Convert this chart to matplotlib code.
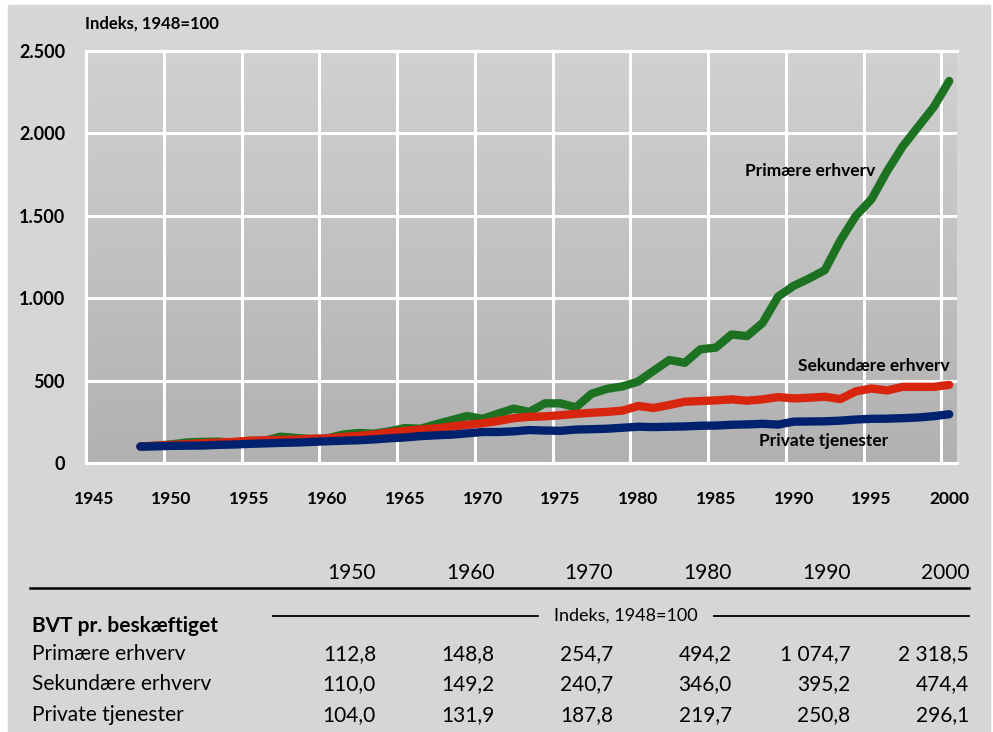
import numpy as np
import matplotlib.pyplot as plt
from matplotlib.colors import LinearSegmentedColormap
from matplotlib.patches import Rectangle
from matplotlib.lines import Line2D

plt.rcParams['font.family'] = ['Lato', 'DejaVu Sans']

# ── Data ─────────────────────────────────────────
years = list(range(1948, 2001))

primaere = [100, 105, 113, 125, 128, 130, 122, 135, 135, 160, 152, 145,
            149, 172, 182, 178, 192, 212, 208, 235, 260, 285, 268, 300,
            330, 310, 362, 362, 338, 420, 450, 465, 494, 560, 625, 608,
            690, 700, 780, 770, 850, 1010, 1075, 1120, 1170, 1350, 1500, 1600,
            1770, 1920, 2040, 2160, 2318]
sekundaere = [100, 105, 110, 115, 120, 124, 128, 135, 138, 140, 142, 147,
              149, 158, 165, 172, 185, 195, 203, 210, 222, 232, 241, 255,
              272, 280, 283, 290, 298, 305, 310, 318, 346, 334, 352, 372,
              376, 380, 386, 378, 386, 400, 392, 396, 402, 388, 435, 452,
              440, 462, 462, 462, 474]
private = [100, 101, 104, 105, 106, 110, 112, 116, 119, 122, 124, 128,
           132, 135, 138, 143, 150, 155, 163, 168, 172, 180, 188, 188,
           192, 200, 197, 195, 203, 205, 208, 214, 220, 218, 220, 222,
           226, 227, 232, 234, 238, 233, 251, 252, 253, 257, 264, 268,
           269, 272, 276, 284, 296]

series_names = ['Primære erhverv', 'Sekundære erhverv', 'Private tjenester']
series_colors = ['#1d7222', '#d8260e', '#00226e']

table_years = ['1950', '1960', '1970', '1980', '1990', '2000']
table_rows = {
    'Primære erhverv': ['112,8', '148,8', '254,7', '494,2', '1 074,7', '2 318,5'],
    'Sekundære erhverv': ['110,0', '149,2', '240,7', '346,0', '395,2', '474,4'],
    'Private tjenester': ['104,0', '131,9', '187,8', '219,7', '250,8', '296,1'],
}

W, H = 993, 732


def fx(x):
    return x / W


def fy(y):
    return 1 - y / H


fig = plt.figure(figsize=(W / 100, H / 100), dpi=100, facecolor='white')
fig.patches.append(Rectangle((fx(8), 0), fx(990) - fx(8), fy(5), transform=fig.transFigure,
                             color='#d6d6d6', zorder=-10))

ax = fig.add_axes([fx(86), fy(463), fx(957) - fx(86), fy(51) - fy(463)])
ax.set_facecolor('none')

# gradient plot background, lighter at the top
cmap = LinearSegmentedColormap.from_list('bg', ['#d1d1d1', '#b1b1b1'])
grad = np.linspace(0, 1, 256).reshape(-1, 1)
ax.imshow(grad, extent=[1944.5, 2000.5, 0, 2500], aspect='auto', cmap=cmap, zorder=0)

for name, vals, col, z in zip(series_names, [primaere, sekundaere, private], series_colors, [3, 4, 5]):
    ax.plot(years, vals, color=col, lw=6, solid_capstyle='round', solid_joinstyle='round', zorder=z)

ax.set_xlim(1944.5, 2000.5)
ax.set_ylim(0, 2500)

ax.set_xticks(range(1945, 2001, 5))
ax.set_xticks([y - 0.5 for y in range(1945, 2001, 5)], minor=True)
ax.set_yticks(range(0, 2501, 500))
ax.set_yticklabels(['0', '500', '1.000', '1.500', '2.000', '2.500'])
ax.tick_params(axis='both', which='both', length=0)
ax.tick_params(axis='x', pad=20, labelsize=12.5)
ax.tick_params(axis='y', pad=15, labelsize=13)
for lab in ax.get_xticklabels() + ax.get_yticklabels():
    lab.set_fontweight('bold')

ax.grid(True, which='minor', axis='x', color='white', lw=2.2, zorder=1)
ax.grid(True, which='major', axis='y', color='white', lw=2.2, zorder=1)
ax.grid(False, which='major', axis='x')
ax.spines['right'].set_visible(False)
for s in ['left', 'top', 'bottom']:
    ax.spines[s].set_color('white')
    ax.spines[s].set_linewidth(2.2)

ax.text(1986.9, 1770, 'Primære erhverv', fontsize=12.5, fontweight='bold', ha='left', va='center', zorder=6)
ax.text(2000.0, 590, 'Sekundære erhverv', fontsize=12.5, fontweight='bold', ha='right', va='center', zorder=6)
ax.text(1987.8, 133, 'Private tjenester', fontsize=12.5, fontweight='bold', ha='left', va='center', zorder=6)

fig.text(fx(85), fy(24), 'Indeks, 1948=100', fontsize=12, fontweight='bold', ha='left', va='center')

# ── Table ────────────────────────────────────────
col_right = [376 + i * 118.6 for i in range(len(table_years))]
for x, yr in zip(col_right, table_years):
    fig.text(fx(x), fy(573), yr, fontsize=15, ha='right', va='center')

fig.add_artist(Line2D([fx(30), fx(969)], [fy(588), fy(588)], color='black', lw=1.8))
fig.add_artist(Line2D([fx(273), fx(538)], [fy(616), fy(616)], color='black', lw=1.3))
fig.add_artist(Line2D([fx(714), fx(969)], [fy(616), fy(616)], color='black', lw=1.3))
fig.text(fx(626), fy(616), 'Indeks, 1948=100', fontsize=13, ha='center', va='center')

fig.text(fx(32), fy(626), 'BVT pr. beskæftiget', fontsize=15, fontweight='bold', ha='left', va='center')
for i, (name, vals) in enumerate(table_rows.items()):
    yy = 654 + i * 30.5
    fig.text(fx(32), fy(yy), name, fontsize=15, ha='left', va='center')
    for x, v in zip(col_right, vals):
        fig.text(fx(x), fy(yy), v, fontsize=15, ha='right', va='center')

plt.savefig('out.png', dpi=100, facecolor=fig.get_facecolor())
